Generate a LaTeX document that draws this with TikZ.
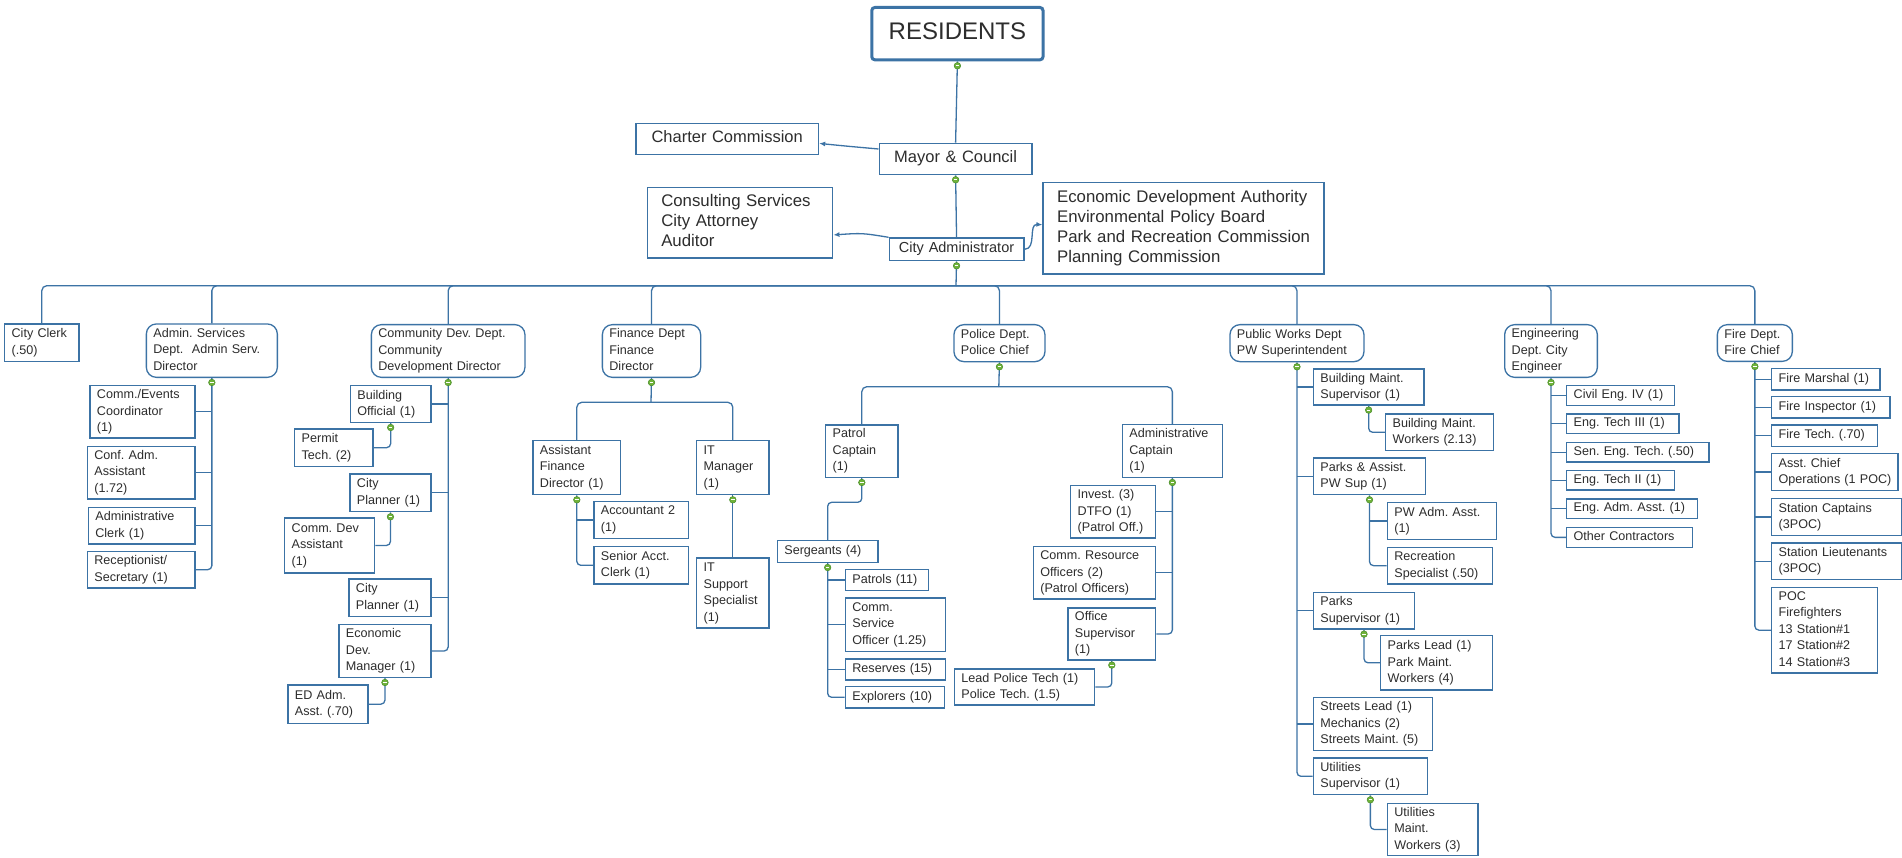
\documentclass[tikz,border=0pt]{standalone}
\usepackage{fontspec}
\setmainfont{Liberation Sans}
\usetikzlibrary{calc,arrows.meta}
\definecolor{bl}{RGB}{60,115,165}
\definecolor{tx}{RGB}{45,45,45}
\definecolor{gd}{RGB}{112,178,58}
\definecolor{gdd}{RGB}{70,140,40}
\tikzset{
 ob/.style={draw=bl,line width=1.3pt,fill=white,text=tx,inner ysep=0pt,align=left,font=\fontsize{12.6}{16.5}\selectfont\frenchspacing},
 db/.style={rounded corners=10pt},
 conn/.style={draw=bl,line width=1.3pt},
 arr/.style={conn,-{Latex[length=6pt,width=5pt]}},
}
\def\bxpad{7}
\newcommand\bx[7][]{%
 \pgfmathsetmacro\bxw{#5-#3}%
 \pgfmathsetmacro\bxh{#6-#4}%
 \pgfmathsetmacro\bxt{#5-#3-2*\bxpad}%
 \node[ob,inner xsep=\bxpad pt,#1,minimum width=\bxw pt,minimum height=\bxh pt,text width=\bxt pt,anchor=north west] (#2) at (#3,#4) {\begin{tabular}{@{}l@{}}#7\end{tabular}};}
\newcommand\gdot[1]{%
 \fill[gd,draw=gdd,line width=0.5pt] ($(#1.south)+(0,4.5)$) circle (3.3pt);
 \draw[white,line width=0.9pt] ($(#1.south)+(-1.8,4.5)$) -- ($(#1.south)+(1.8,4.5)$);}
\begin{document}
\begin{tikzpicture}[x=1pt,y=-1pt]
\fill[white] (0,0) rectangle (1902,858);
\useasboundingbox (0,0) rectangle (1902,858);

% ---------- top ----------
\bx[line width=3pt,rounded corners=3pt,align=center,font=\fontsize{24}{28}\selectfont]{res}{870.3}{6}{1041.5}{58.3}{RESIDENTS}
\bx[align=center,font=\fontsize{16.5}{20}\selectfont]{mc}{878.5}{142.7}{1031.4}{174}{Mayor \& Council}
\bx[align=center,font=\fontsize{16.5}{20}\selectfont]{cc}{635.2}{122.7}{817.9}{154}{Charter Commission}
\bx[align=center,font=\fontsize{14.5}{18}\selectfont]{ca}{888.6}{237.3}{1023.2}{260}{City Administrator}
\def\bxpad{14}
\bx[font=\fontsize{16.8}{20}\selectfont]{con}{646.6}{186.7}{832.1}{257.3}{Consulting Services\\City Attorney\\Auditor}
\bx[font=\fontsize{16.8}{20}\selectfont]{eda}{1042.4}{182}{1323.4}{273.3}{Economic Development Authority\\Environmental Policy Board\\Park and Recreation Commission\\Planning Commission}
\def\bxpad{7}

% ---------- departments ----------
\bx{clerk}{4}{323.3}{78.3}{360.7}{City Clerk\\(.50)}
\bx[db]{adm}{145.7}{323.3}{276.7}{376.7}{Admin. Services\\Dept.\ \ Admin Serv.\\Director}
\bx[db]{cdd}{370.7}{324}{524.3}{376.7}{Community Dev. Dept.\\Community\\Development Director}
\bx[db]{fin}{601.7}{324}{700}{376.7}{Finance Dept\\Finance\\Director}
\bx[db]{pol}{953.3}{324}{1044.3}{361}{Police Dept.\\Police Chief}
\bx[db]{pw}{1229.3}{324}{1363.3}{361}{Public Works Dept\\PW Superintendent}
\bx[db]{eng}{1504}{324}{1596.7}{376.7}{Engineering\\Dept. City\\Engineer}
\bx[db]{fire}{1716.7}{324}{1791.7}{360.7}{Fire Dept.\\Fire Chief}

% ---------- admin ----------
\bx{ce}{89.3}{385}{194.3}{437.3}{Comm./Events\\Coordinator\\(1)}
\bx{cfa}{86.7}{445.7}{194.3}{498.3}{Conf. Adm.\\Assistant\\(1.72)}
\bx{acl}{87.7}{506.7}{194.3}{543.3}{Administrative\\Clerk (1)}
\bx{rsc}{86.7}{550.7}{194.3}{587.3}{Receptionist/\\Secretary (1)}

% ---------- community dev ----------
\bx{bo}{349.7}{385}{430.3}{421.7}{Building\\Official (1)}
\bx{pt}{294}{428.3}{372.3}{465.7}{Permit\\Tech. (2)}
\bx{cpa}{349.3}{473.3}{430.3}{511}{City\\Planner (1)}
\bx{cda}{284}{517.3}{374}{572.3}{Comm. Dev\\Assistant\\(1)}
\bx{cpb}{348.3}{578.3}{430.3}{616}{City\\Planner (1)}
\bx{edm}{338.3}{624}{430.3}{676.7}{Economic\\Dev.\\Manager (1)}
\bx{edaa}{287.3}{684.3}{367.3}{722.7}{ED Adm.\\Asst. (.70)}

% ---------- finance ----------
\bx{afd}{532.3}{440}{620}{494}{Assistant\\Finance\\Director (1)}
\bx{itm}{696}{440}{768.3}{494}{IT\\Manager\\(1)}
\bx{acc}{593.3}{500.7}{687.7}{537.7}{Accountant 2\\(1)}
\bx{sac}{593.3}{546}{687.7}{583.3}{Senior Acct.\\Clerk (1)}
\bx{its}{696}{557.3}{768.3}{627.3}{IT\\Support\\Specialist\\(1)}

% ---------- police ----------
\bx{pc}{825}{424.3}{897.3}{476.7}{Patrol\\Captain\\(1)}
\bx{sg}{776.7}{540}{877.3}{561.7}{Sergeants (4)}
\bx{pa}{844.7}{568.7}{928}{590}{Patrols (11)}
\bx{cso}{844.7}{597.3}{945}{650.7}{Comm.\\Service\\Officer (1.25)}
\bx{rv}{844.7}{658.3}{945}{679.3}{Reserves (15)}
\bx{ex}{844.7}{686}{944}{707.3}{Explorers (10)}
\bx{adc}{1121.7}{424}{1221.7}{476.7}{Administrative\\Captain\\(1)}
\bx{inv}{1070}{485}{1155}{537.3}{Invest. (3)\\DTFO (1)\\(Patrol Off.)}
\bx{cro}{1032.7}{546}{1155}{598.3}{Comm. Resource\\Officers (2)\\(Patrol Officers)}
\bx{os}{1067.3}{607.3}{1155}{659.3}{Office\\Supervisor\\(1)}
\bx{lpt}{953.7}{668.3}{1094}{704.3}{Lead Police Tech (1)\\Police Tech. (1.5)}

% ---------- public works ----------
\bx{bms}{1312.7}{368.3}{1423.3}{404.3}{Building Maint.\\Supervisor (1)}
\bx{bmw}{1385}{413.3}{1492.7}{450}{Building Maint.\\Workers (2.13)}
\bx{pas}{1312.7}{457.3}{1425}{494}{Parks \& Assist.\\PW Sup (1)}
\bx{pwa}{1386.7}{501.7}{1495.7}{539}{PW Adm. Asst.\\(1)}
\bx{rsp}{1386.7}{546.7}{1491.7}{583.3}{Recreation\\Specialist (.50)}
\bx{ps}{1312.7}{591.7}{1414}{628.3}{Parks\\Supervisor (1)}
\bx{pl}{1380}{635}{1491.7}{689.3}{Parks Lead (1)\\Park Maint.\\Workers (4)}
\bx{sl}{1312.7}{696.7}{1431.7}{750}{Streets Lead (1)\\Mechanics (2)\\Streets Maint. (5)}
\bx{us}{1312.7}{757.3}{1426.7}{794}{Utilities\\Supervisor (1)}
\bx{umw}{1386.7}{802.7}{1477.3}{855}{Utilities\\Maint.\\Workers (3)}

% ---------- engineering ----------
\bx{ea}{1566}{385}{1674}{405}{Civil Eng. IV (1)}
\bx{eb}{1566}{413.3}{1678.3}{432.7}{Eng. Tech III (1)}
\bx{ec}{1566}{441.7}{1708.3}{461.3}{Sen. Eng. Tech. (.50)}
\bx{ed}{1566}{470}{1674}{489.3}{Eng. Tech II (1)}
\bx{ee}{1566}{498.3}{1696.7}{517.7}{Eng. Adm. Asst. (1)}
\bx{ef}{1566}{526.7}{1691.7}{546.7}{Other Contractors}

% ---------- fire ----------
\bx{fa}{1771}{367.7}{1879.3}{389.3}{Fire Marshal (1)}
\bx{fb}{1771}{396}{1889.3}{417.3}{Fire Inspector (1)}
\bx{fc}{1771}{424.3}{1876.7}{445.7}{Fire Tech. (.70)}
\bx{fd}{1771}{452.7}{1897.3}{490}{Asst. Chief\\Operations (1 POC)}
\bx{fe}{1771}{497.7}{1900.5}{535}{Station Captains\\(3POC)}
\bx{ff}{1771}{542.3}{1900.5}{579}{Station Lieutenants\\(3POC)}
\bx{fg}{1771}{586.7}{1876.7}{672.3}{POC\\Firefighters\\13 Station\#1\\17 Station\#2\\14 Station\#3}

% ---------- connectors ----------
\draw[conn] (res.south) -- (mc.north);
\draw[conn] (mc.south) -- (ca.north);
\coordinate (bus) at (956,285.7);
\draw[conn] (ca.south) -- (bus);
\foreach \n in {clerk,adm,cdd,fin,pol,pw,eng,fire}
  \draw[conn,rounded corners=5pt] (bus) -| (\n.north);
\draw[arr] ($(mc.west)+(0,-10)$) .. controls (845,146) .. ($(cc.east)+(0,4.4)$);
\draw[arr] (ca.north west) .. controls (862,233) .. ($(con.east)+(0,12.3)$);
\draw[arr] (ca.east) .. controls (1037,249) and (1028,224) .. ($(eda.west)+(0,-3.6)$);

% admin
\draw[conn,rounded corners=4pt] (adm.south) |- (rsc.east);
\foreach \c in {ce,cfa,acl} \draw[conn] (adm.south |- \c.east) -- (\c.east);
% community dev
\draw[conn,rounded corners=4pt] (cdd.south) |- (edm.east);
\foreach \c in {bo,cpa,cpb} \draw[conn] (cdd.south |- \c.east) -- (\c.east);
\draw[conn,rounded corners=4pt] (bo.south) |- (pt.east);
\draw[conn,rounded corners=4pt] (cpa.south) |- (cda.east);
\draw[conn,rounded corners=4pt] (edm.south) |- (edaa.east);
% finance
\coordinate (finbus) at (651,402.3);
\draw[conn] (fin.south) -- (finbus);
\draw[conn,rounded corners=5pt] (finbus) -| (afd.north);
\draw[conn,rounded corners=5pt] (finbus) -| (itm.north);
\draw[conn,rounded corners=4pt] (afd.south) |- (sac.west);
\draw[conn] (afd.south |- acc.west) -- (acc.west);
\draw[conn] (itm.south) -- (its.north);
% police
\coordinate (polbus) at (998.8,386.7);
\draw[conn] (pol.south) -- (polbus);
\draw[conn,rounded corners=5pt] (polbus) -| (pc.north);
\draw[conn,rounded corners=5pt] (polbus) -| (adc.north);
\coordinate (pcj) at (0,502.3);
\draw[conn,rounded corners=4pt] (pc.south) -- (pc.south |- pcj) -- (sg.north |- pcj) -- (sg.north);
\draw[conn,rounded corners=4pt] (sg.south) |- (ex.west);
\foreach \c in {pa,cso,rv} \draw[conn] (sg.south |- \c.west) -- (\c.west);
\draw[conn,rounded corners=4pt] (adc.south) |- (os.east);
\foreach \c in {inv,cro} \draw[conn] (adc.south |- \c.east) -- (\c.east);
\draw[conn,rounded corners=4pt] (os.south) |- (lpt.east);
% public works
\draw[conn,rounded corners=4pt] (pw.south) |- (us.west);
\foreach \c in {bms,pas,ps,sl} \draw[conn] (pw.south |- \c.west) -- (\c.west);
\draw[conn,rounded corners=4pt] (bms.south) |- (bmw.west);
\draw[conn,rounded corners=4pt] (pas.south) |- (rsp.west);
\draw[conn] (pas.south |- pwa.west) -- (pwa.west);
\draw[conn,rounded corners=4pt] (ps.south) |- (pl.west);
\draw[conn,rounded corners=4pt] (us.south) |- (umw.west);
% engineering
\draw[conn,rounded corners=4pt] (eng.south) |- (ef.west);
\foreach \c in {ea,eb,ec,ed,ee} \draw[conn] (eng.south |- \c.west) -- (\c.west);
% fire
\draw[conn,rounded corners=4pt] (fire.south) |- (fg.west);
\foreach \c in {fa,fb,fc,fd,fe,ff} \draw[conn] (fire.south |- \c.west) -- (\c.west);

% ---------- collapse dots ----------
\foreach \d in {res,mc,ca,adm,cdd,fin,pol,pw,eng,fire,bo,cpa,edm,afd,itm,pc,sg,adc,os,bms,pas,ps,us}
  {\gdot{\d}}
\end{tikzpicture}
\end{document}
